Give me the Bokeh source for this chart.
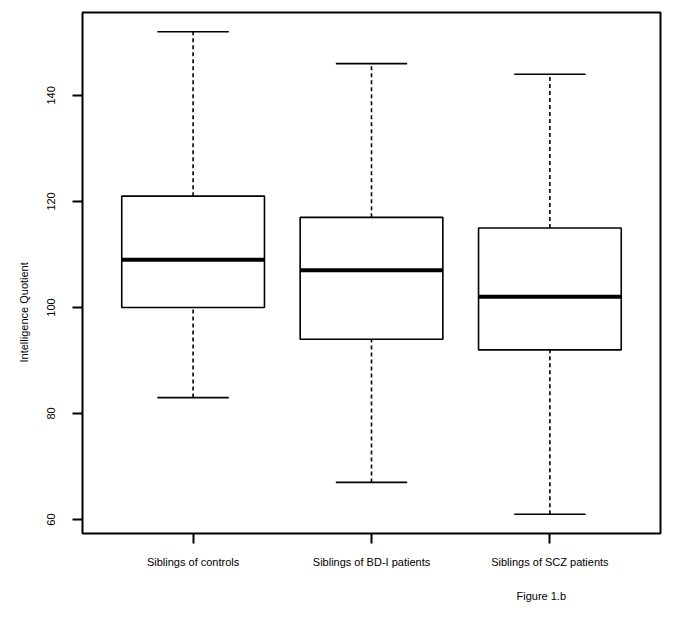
from bokeh.plotting import figure
from bokeh.models import ColumnDataSource, Range1d, FixedTicker, Title
from bokeh.embed import file_html
from bokeh.resources import INLINE

categories = ["Siblings of controls", "Siblings of BD-I patients", "Siblings of SCZ patients"]
positions = [1, 2, 3]
whisker_low = [83, 67, 61]
q1 = [100, 94, 92]
median = [109, 107, 102]
q3 = [121, 117, 115]
whisker_high = [152, 146, 144]
y_ticks = [60, 80, 100, 120, 140]

FONT = "Liberation Sans"
BOXW = 0.8
CAPW = 0.4

src = ColumnDataSource(dict(
    x=positions,
    lo=whisker_low, q1=q1, med=median, q3=q3, hi=whisker_high,
    left=[p - BOXW / 2 for p in positions],
    right=[p + BOXW / 2 for p in positions],
    cl=[p - CAPW / 2 for p in positions],
    cr=[p + CAPW / 2 for p in positions],
))

lo_all = min(whisker_low)
hi_all = max(whisker_high)
pad = (hi_all - lo_all) * 0.04
xpad = (len(positions)) * 0.04

p = figure(width=665, height=618, output_backend="svg", toolbar_location=None,
           x_range=Range1d(0.5 - xpad, len(positions) + 0.5 + xpad),
           y_range=Range1d(lo_all - pad, hi_all + pad),
           min_border_left=82, min_border_right=5, min_border_top=12, min_border_bottom=60)

p.xgrid.visible = False
p.ygrid.visible = False
p.outline_line_color = "black"
p.outline_line_width = 2
p.background_fill_color = "white"
p.border_fill_color = "white"

# whiskers
p.segment(x0="x", y0="q3", x1="x", y1="hi", source=src, line_color="black",
          line_width=1.6, line_dash="4 3")
p.segment(x0="x", y0="lo", x1="x", y1="q1", source=src, line_color="black",
          line_width=1.6, line_dash="4 3")
# caps
p.segment(x0="cl", y0="hi", x1="cr", y1="hi", source=src, line_color="black", line_width=1.6)
p.segment(x0="cl", y0="lo", x1="cr", y1="lo", source=src, line_color="black", line_width=1.6)
# boxes
p.quad(left="left", right="right", bottom="q1", top="q3", source=src,
       fill_color="white", line_color="black", line_width=1.6)
# medians
p.segment(x0="left", y0="med", x1="right", y1="med", source=src, line_color="black",
          line_width=4)

# axes
xa = p.xaxis[0]
xa.ticker = FixedTicker(ticks=positions)
xa.major_label_overrides = {pos: c for pos, c in zip(positions, categories)}
xa.axis_line_color = None
xa.major_tick_out = 10
xa.major_tick_in = 0
xa.major_tick_line_width = 2
xa.minor_tick_line_color = None
xa.major_label_standoff = 12
xa.major_label_text_font = FONT
xa.major_label_text_font_size = "11px"
xa.major_label_text_color = "black"

ya = p.yaxis[0]
ya.ticker = FixedTicker(ticks=y_ticks)
ya.axis_line_color = None
ya.major_tick_out = 10
ya.major_tick_in = 0
ya.major_tick_line_width = 2
ya.minor_tick_line_color = None
ya.major_label_orientation = "vertical"
ya.major_label_standoff = 17
ya.major_label_text_font = FONT
ya.major_label_text_font_size = "11px"
ya.major_label_text_color = "black"

p.add_layout(Title(text="Intelligence Quotient", align="left", offset=171, text_font=FONT,
                   text_font_size="11px", text_font_style="normal", text_color="black",
                   vertical_align="top", standoff=26), "left")

p.add_layout(Title(text="Figure 1.b", align="left", offset=434, text_font=FONT,
                   text_font_size="11px", text_font_style="normal", text_color="black",
                   standoff=34), "below")

open("out.html", "w").write(file_html(p, INLINE))
